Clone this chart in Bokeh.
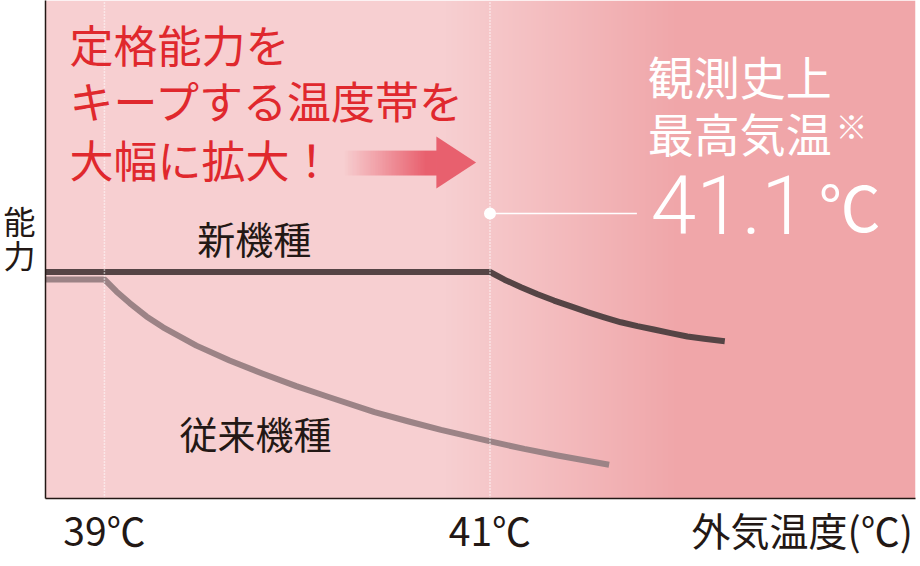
import numpy as np
from bokeh.plotting import figure
from bokeh.models import Range1d, Label, FixedTicker
from bokeh.embed import file_html
from bokeh.resources import INLINE

# ---------------- data ----------------
temp_new = [38.69, 41.0, 41.075, 41.161, 41.247, 41.332, 41.42, 41.506, 41.592,
            41.679, 41.765, 41.85, 41.938, 42.024, 42.111, 42.218]
cap_new = [100.0, 100.0, 96.6, 93.3, 90.2, 87.4, 84.8, 82.3, 80.0,
           77.8, 76.1, 74.6, 73.0, 71.5, 70.5, 69.4]

temp_old = [38.69, 39.0, 39.062, 39.131, 39.218, 39.304, 39.477, 39.649, 39.822,
            39.995, 40.167, 40.401, 40.574, 40.746, 41.002, 41.178, 41.351, 41.618]
cap_old = [96.7, 96.7, 91.4, 86.3, 80.4, 75.6, 67.5, 60.9, 55.1,
           49.6, 44.7, 38.1, 34.1, 30.3, 25.2, 21.9, 19.0, 14.9]

marker_temps = [39, 41]
tick_labels = ["39℃", "41℃"]
x_title = "外気温度(℃)"
y_title = ["能", "力"]
series_names = ["新機種", "従来機種"]
headline = ["定格能力を", "キープする温度帯を", "大幅に拡大！"]
record_lines = ["観測史上", "最高気温"]
record_note = "※"
record_value = "41.1"
record_unit = "℃"

# ---------------- layout ----------------
X0, X1 = 38.6943, 43.2073
Y0, Y1 = 0.0, 219.87

CJK = "Noto Sans CJK JP"
DARK = "#231815"

p = figure(width=916, height=560, x_range=Range1d(X0, X1), y_range=Range1d(Y0, Y1),
           output_backend="svg", toolbar_location=None, title=None,
           min_border_left=44, min_border_right=1, min_border_top=0, min_border_bottom=62)
p.background_fill_color = "white"
p.border_fill_color = "white"
p.outline_line_color = None
p.grid.visible = False

# x axis: temperature ticks plus the axis title at the far right
x_title_pos = 42.62
p.xaxis.ticker = FixedTicker(ticks=marker_temps + [x_title_pos])
overrides = {t: s for t, s in zip(marker_temps, tick_labels)}
overrides[x_title_pos] = x_title
p.xaxis.major_label_overrides = overrides
p.xaxis.major_label_text_font = CJK
p.xaxis.major_label_text_font_size = "39px"
p.xaxis.major_label_text_color = DARK
p.xaxis.major_label_standoff = 2

# y axis: vertical title "能力" written as two stacked labels
p.yaxis.ticker = FixedTicker(ticks=[123, 108])
p.yaxis.major_label_overrides = {123: y_title[0], 108: y_title[1]}
p.yaxis.major_label_text_font = CJK
p.yaxis.major_label_text_font_size = "32px"
p.yaxis.major_label_text_color = DARK
p.yaxis.major_label_standoff = 10

for ax in (p.xaxis, p.yaxis):
    ax.major_tick_line_color = None
    ax.major_tick_out = 0
    ax.major_tick_in = 0
    ax.minor_tick_line_color = None
    ax.axis_line_color = DARK
    ax.axis_line_width = 1.5

# background gradient (light pink -> deeper pink)
N = 871
cols = np.linspace(X0, X1, N)
g0, g1 = 40.77, 41.99
t = np.clip((cols - g0) / (g1 - g0), 0, 1)
c_left = np.array([247, 207, 209])
c_right = np.array([240, 166, 169])
bg = np.empty((1, N), dtype=np.uint32)
bgv = bg.view(dtype=np.uint8).reshape((1, N, 4))
for k in range(3):
    bgv[0, :, k] = (c_left[k] * (1 - t) + c_right[k] * t).astype(np.uint8)
bgv[0, :, 3] = 255
p.image_rgba(image=[bg], x=X0, y=Y0, dw=X1 - X0, dh=Y1 - Y0)

# series lines
p.line(temp_old, cap_old, line_color="#9c8386", line_width=6, line_join="round")
p.line(temp_new, cap_new, line_color="#554445", line_width=6, line_join="round")

# dotted reference lines
p.segment(x0=marker_temps, y0=Y0, x1=marker_temps, y1=Y1,
          line_color="white", line_width=1.5, line_dash="1 2")

# gradient arrow
M = 120
sx0, sx1 = 40.238, 40.725
a = np.clip(np.linspace(0, 1.15, M), 0, 1)
sh = np.empty((1, M), dtype=np.uint32)
shv = sh.view(dtype=np.uint8).reshape((1, M, 4))
shv[0, :, 0] = 232
shv[0, :, 1] = 96
shv[0, :, 2] = 110
shv[0, :, 3] = (a * 255).astype(np.uint8)
p.image_rgba(image=[sh], x=sx0, y=142.6, dw=sx1 - sx0, dh=153.6 - 142.6)
p.patch([40.722, 40.928, 40.722], [159.8, 148.3, 136.9], fill_color="#e8606e", line_color=None)

# record temperature callout
p.line([41.0, 41.762], [125.8, 125.8], line_color="white", line_width=1.5)
p.scatter([41.0], [125.8], size=12, fill_color="white", line_color=None)

# ---------------- texts ----------------
def lab(x, y, text, size, color, font=CJK, align="left", baseline="middle"):
    p.add_layout(Label(x=x, y=y, text=text, text_font=font, text_font_size=size,
                       text_color=color, text_align=align, text_baseline=baseline))

for txt, yy in zip(headline, [200.5, 175.8, 150.1]):
    lab(38.819, yy, txt, "44px", "#e0282d")

lab(39.482, 115.1, series_names[0], "38px", DARK)
lab(39.389, 29.2, series_names[1], "38px", DARK)

lab(41.819, 186.8, record_lines[0], "46px", "white")
lab(41.819, 161.7, record_lines[1], "46px", "white")
lab(42.792, 165.0, record_note, "32px", "white")
lab(41.834, 129.5, record_value, "82px", "white", font="Roboto Light", baseline="alphabetic")
lab(42.705, 129.5, record_unit, "62px", "white", baseline="alphabetic")

open("out.html", "w").write(file_html(p, INLINE))
